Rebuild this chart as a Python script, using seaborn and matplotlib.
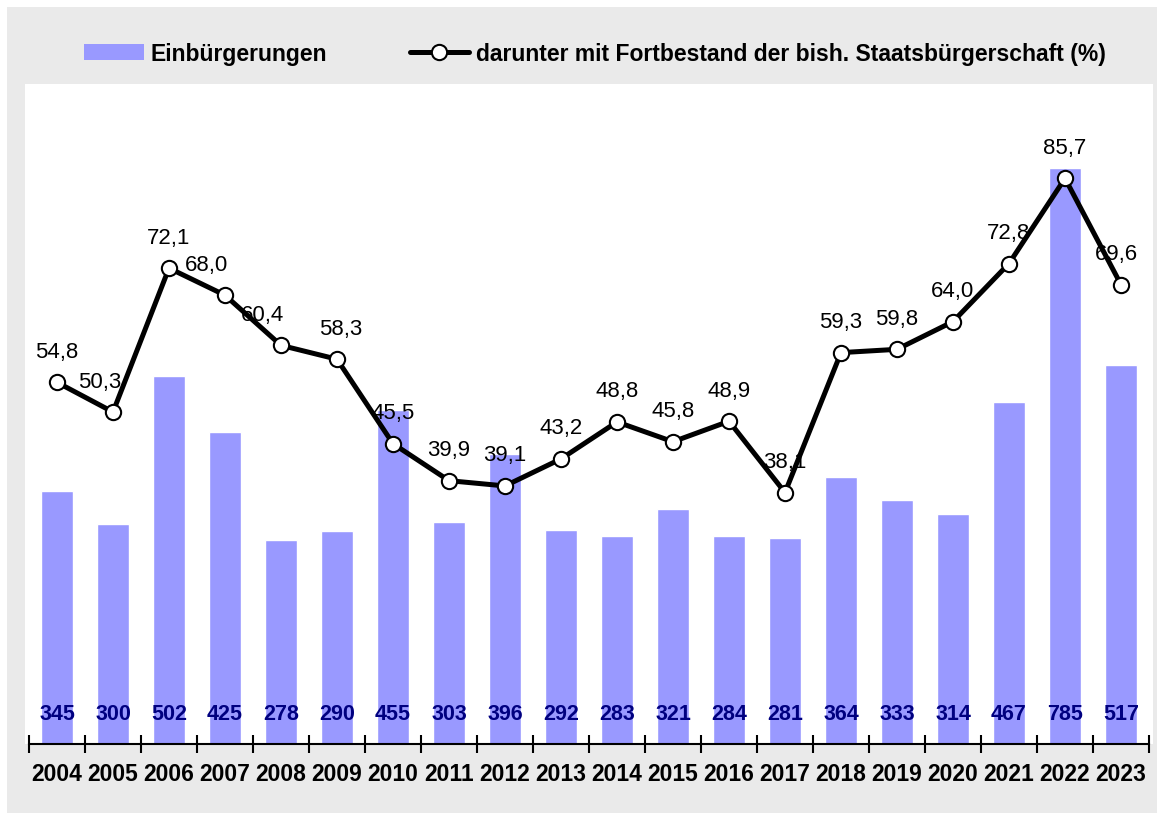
import matplotlib
matplotlib.use("Agg")
import matplotlib.pyplot as plt
import seaborn as sns
import numpy as np
from matplotlib.patches import Patch, Rectangle
from matplotlib.lines import Line2D

# data
jahre = [str(j) for j in range(2004, 2024)]
einbuergerungen = [345, 300, 502, 425, 278, 290, 455, 303, 396, 292,
                   283, 321, 284, 281, 364, 333, 314, 467, 785, 517]
fortbestand = [54.8, 50.3, 72.1, 68.0, 60.4, 58.3, 45.5, 39.9, 39.1, 43.2,
               48.8, 45.8, 48.9, 38.1, 59.3, 59.8, 64.0, 72.8, 85.7, 69.6]

# small horizontal nudges (pixels) for some line labels
label_dx = [0, -13, 0, -18, -18, 4, 0, 0, 0, 0,
            0, 0, 0, 0, 0, 0, 0, 0, 0, -5]

sns.set_theme(style="white")
plt.rcParams['font.family'] = ['Liberation Sans', 'DejaVu Sans']
plt.rcParams['text.color'] = 'black'

bar_col = "#9999FF"
grey = "#EAEAEA"

fig = plt.figure(figsize=(11.57, 8.13), dpi=100, facecolor="white")
fig.patches.append(Rectangle((7 / 1157, 0), 1, 1 - 7 / 813, transform=fig.transFigure,
                             facecolor=grey, edgecolor="none", zorder=-2))
# white plot background slightly larger than axes
fig.patches.append(Rectangle((25 / 1157, 1 - 744 / 813), (1153 - 25) / 1157, (744 - 84) / 813,
                             transform=fig.transFigure, facecolor="white",
                             edgecolor="none", zorder=-1))

ax = fig.add_axes([29 / 1157, 1 - 744 / 813, (1149 - 29) / 1157, (744 - 84) / 813])
ax.set_facecolor("none")

sns.barplot(x=jahre, y=einbuergerungen, color=bar_col, saturation=1, width=0.56, ax=ax)
ax.set_ylim(0, 900)
ax.set_xlim(-0.5, len(jahre) - 0.5)
ax.set_xlabel("")
ax.set_ylabel("")
ax.set_yticks([])

for i, v in enumerate(einbuergerungen):
    ax.annotate(str(v), xy=(i, 0), xytext=(0, 30), textcoords="offset pixels",
                ha="center", va="center", fontsize=15.5, fontweight="bold", color="#000080")

for s in ["top", "left", "right"]:
    ax.spines[s].set_visible(False)
ax.spines["bottom"].set_color("black")
ax.spines["bottom"].set_linewidth(1.5)

ax.set_xticks(np.arange(len(jahre)))
ax.set_xticklabels(jahre, fontsize=16.5, fontweight="bold", color="black")
ax.tick_params(axis="x", which="major", length=0, pad=14)
ax.set_xticks(np.arange(len(jahre) + 1) - 0.5, minor=True)
ax.tick_params(axis="x", which="minor", bottom=True, direction="inout", length=13,
               width=1.5, color="black")

ax2 = ax.twinx()
sns.lineplot(x=np.arange(len(jahre)), y=fortbestand, ax=ax2, color="black", linewidth=3.6,
             marker="o", markersize=11, markerfacecolor="white", markeredgecolor="black",
             markeredgewidth=1.5, zorder=5)
ax2.set_ylim(0, 100)
ax2.set_yticks([])
ax2.set_ylabel("")
for s in ax2.spines.values():
    s.set_visible(False)

for i, v in enumerate(fortbestand):
    ax2.annotate(f"{v:.1f}".replace(".", ","), xy=(i, v), xytext=(label_dx[i], 30),
                 textcoords="offset pixels", ha="center", va="center", fontsize=16,
                 color="black", zorder=6)

handles = [Patch(facecolor=bar_col, edgecolor="none"),
           Line2D([], [], color="black", linewidth=3.6, marker="o", markersize=11,
                  markerfacecolor="white", markeredgecolor="black", markeredgewidth=1.5)]
labels = ["Einbürgerungen", "darunter mit Fortbestand der bish. Staatsbürgerschaft (%)"]
fig.legend(handles, labels, loc="center", bbox_to_anchor=(595 / 1157, 1 - 54 / 813), ncol=2,
           frameon=False, prop={"size": 16.5, "weight": "bold"}, handlelength=2.6,
           handletextpad=0.3, columnspacing=3.6, labelcolor="black")

fig.savefig("out.png", dpi=100, facecolor=fig.get_facecolor())
